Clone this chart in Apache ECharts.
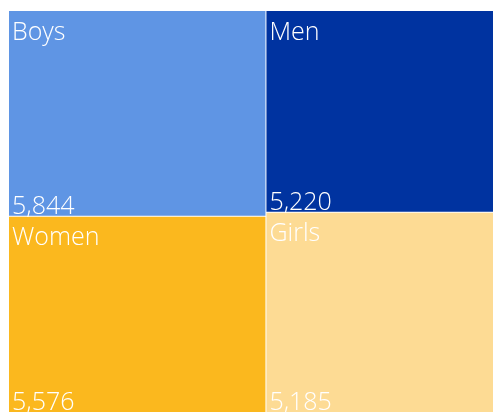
<!DOCTYPE html>
<html>
<head>
<meta charset="utf-8">
<script src="https://cdn.jsdelivr.net/npm/echarts@6/dist/echarts.min.js"></script>
<style>
html,body{margin:0;padding:0;background:#fff;}
#main{width:493px;height:412px;}
</style>
</head>
<body>
<div id="main"></div>
<script>
// treemap data
var names = ['Boys', 'Men', 'Women', 'Girls'];
var values = [5844, 5220, 5576, 5185];
var colors = ['#5f95e4', '#0033a0', '#fbb81e', '#fddb94'];

var chart = echarts.init(document.getElementById('main'));

var cells = [];
var valueCells = [];
for (var i = 0; i < names.length; i++) {
  cells.push({ name: names[i], value: values[i], itemStyle: { color: colors[i] } });
  valueCells.push({ name: names[i], value: values[i] });
}

var font = '"Open Sans", "DejaVu Sans", sans-serif';

// same box for both layers so the cells line up
var box = { left: 9, top: 11, width: 491, height: 401 };

function layer(data, rootColor, cellColor, label) {
  return {
    type: 'treemap',
    left: box.left, top: box.top, width: box.width, height: box.height,
    roam: false,
    nodeClick: false,
    silent: true,
    breadcrumb: { show: false },
    data: data,
    levels: [
      { itemStyle: { gapWidth: 1, borderWidth: 0, borderColor: rootColor } },
      { itemStyle: { borderWidth: 0, gapWidth: 0, color: cellColor }, label: label }
    ]
  };
}

var option = {
  animation: false,
  series: [
    // cells + names
    layer(cells, '#fff', undefined, {
      show: true,
      position: 'insideTopLeft',
      distance: 0,
      padding: [9, 0, 0, 3],
      color: '#fff',
      fontFamily: font,
      fontWeight: 300,
      fontSize: 25,
      lineHeight: 25,
      overflow: 'none',
      formatter: '{b}'
    }),
    // values at the bottom
    layer(valueCells, 'transparent', 'transparent', {
      show: true,
      position: 'insideBottomLeft',
      distance: 0,
      padding: [0, 0, 0, 3],
      color: '#fff',
      fontFamily: font,
      fontWeight: 300,
      fontSize: 25,
      lineHeight: 18,
      overflow: 'none',
      formatter: function (p) {
        return p.value.toLocaleString('en-US');
      }
    })
  ]
};
chart.setOption(option);
</script>
</body>
</html>
